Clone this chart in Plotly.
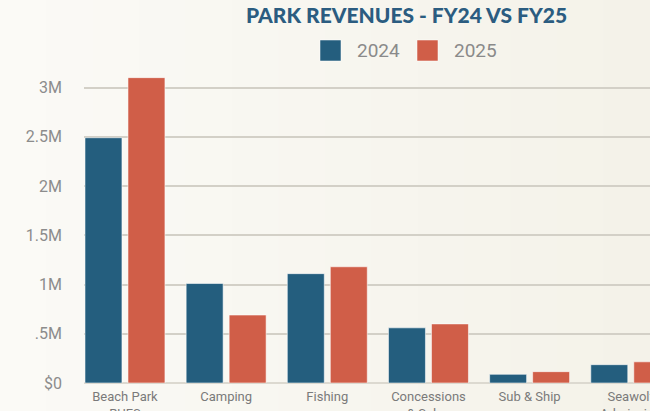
import plotly.graph_objects as go

categories = ["Beach Park<br>RUFS", "Camping", "Fishing", "Concessions<br>& Sales", "Sub & Ship", "Seawolf<br>Admission"]
fy2024 = [2_490_000, 1_010_000, 1_110_000, 560_000, 88_000, 186_000]
fy2025 = [3_100_000, 690_000, 1_180_000, 600_000, 115_000, 215_000]
tick_vals = [0, 500_000, 1_000_000, 1_500_000, 2_000_000, 2_500_000, 3_000_000]
tick_text = ["$0", ".5M", "1M", "1.5M", "2M", "2.5M", "3M"]

BLUE = "#245e7e"
RED = "#d05e48"
W, H = 650, 411
ML, MR, MT, MB = 84, 0, 60, 28
PW, PH = W - ML - MR, H - MT - MB


def px_x(px):
    return (px - ML) / PW


def px_y(py):
    return (H - MB - py) / PH


fig = go.Figure()
fig.add_trace(go.Bar(name="2024", x=categories, y=fy2024, marker=dict(color=BLUE, line=dict(color="rgba(255,255,255,0.55)", width=1)), showlegend=False))
fig.add_trace(go.Bar(name="2025", x=categories, y=fy2025, marker=dict(color=RED, line=dict(color="rgba(255,255,255,0.55)", width=1)), showlegend=False))

shapes = []
# subtle horizontal background gradient
bands = 14
c0 = (251, 250, 246)
c1 = (244, 242, 233)
for i in range(bands):
    t = i / (bands - 1)
    col = tuple(round(c0[k] + (c1[k] - c0[k]) * t) for k in range(3))
    x0 = W * i / bands
    x1 = W * (i + 1) / bands + 1
    shapes.append(dict(type="rect", xref="paper", yref="paper", x0=px_x(x0), x1=px_x(x1),
                       y0=px_y(H + 2), y1=px_y(-2), fillcolor="rgb(%d,%d,%d)" % col,
                       line=dict(width=0), layer="below"))

# custom legend swatches
for left, col in [(320, BLUE), (417, RED)]:
    shapes.append(dict(type="rect", xref="paper", yref="paper", x0=px_x(left), x1=px_x(left + 21),
                       y0=px_y(61), y1=px_y(40), fillcolor=col, line=dict(color="rgba(255,255,255,0.5)", width=1)))

annotations = []
for left, label in [(355, "2024"), (452, "2025")]:
    annotations.append(dict(text=label, xref="paper", yref="paper", x=px_x(left), y=px_y(50.5),
                            xanchor="left", yanchor="middle", showarrow=False,
                            font=dict(family="Roboto", size=19, color="#8a8a8a")))

fig.update_layout(
    width=W, height=H,
    margin=dict(l=ML, r=MR, t=MT, b=MB),
    paper_bgcolor="#f7f5ef",
    plot_bgcolor="rgba(0,0,0,0)",
    barmode="group",
    bargap=0.15,
    bargroupgap=0.14,
    title=dict(text="PARK REVENUES - FY24 VS FY25", x=406.5 / W, xref="container", xanchor="center",
               y=1 - 16 / H, yref="container", yanchor="middle",
               font=dict(family="Lato", size=21, color="#2b5c80", weight=900)),
    shapes=shapes,
    annotations=annotations,
    showlegend=False,
    xaxis=dict(range=[-0.405, 5.19], showgrid=False, showline=False, zeroline=False, automargin=False,
               tickfont=dict(family="Roboto", size=13, color="#7a7a7a"), ticks="", ticklabelstandoff=4),
    yaxis=dict(range=[0, PH / 98.5 * 1_000_000], tickvals=tick_vals, ticktext=tick_text, automargin=False,
               showgrid=True, gridcolor="#d3d0c7", gridwidth=1.5, zeroline=True, zerolinecolor="#dcd9d0",
               zerolinewidth=1.5, showline=False, ticks="",
               tickfont=dict(family="Roboto", size=16, color="#8c8c8c"), ticklabelstandoff=21),
)

fig.write_html("out.html", config={"displayModeBar": False},
               post_script="document.body.style.margin='0';document.body.style.overflow='hidden';")
